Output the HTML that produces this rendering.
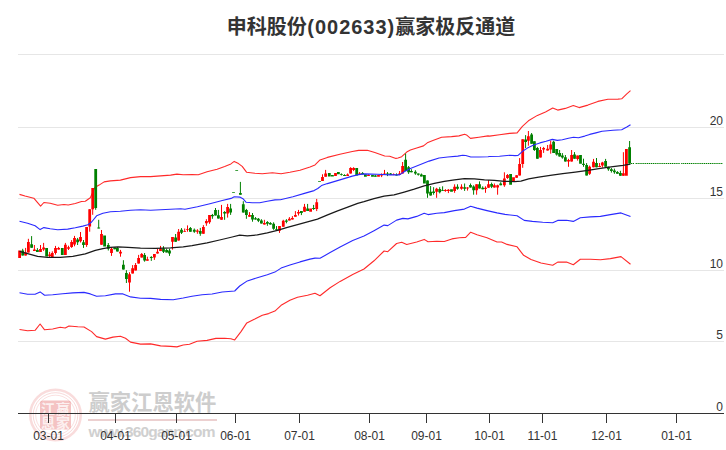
<!DOCTYPE html>
<html><head><meta charset="utf-8">
<style>
html,body{margin:0;padding:0;background:#fff;}
body{width:726px;height:450px;overflow:hidden;position:relative;font-family:"Liberation Sans","Noto Sans CJK SC",sans-serif;}
#title{position:absolute;left:0;top:12px;width:742px;text-align:center;font-size:20px;font-weight:bold;color:#333;line-height:30px;white-space:nowrap;}
svg{position:absolute;left:0;top:0;}
.yl{font-size:12px;fill:#333;text-anchor:end;}
.xl{font-size:12px;fill:#333;text-anchor:middle;}
</style></head><body>
<div id="title">申科股份<span style="letter-spacing:1px;margin-left:0.5px">(002633)</span>赢家极反通道</div>
<svg width="726" height="450" viewBox="0 0 726 450" font-family='"Liberation Sans","Noto Sans CJK SC",sans-serif'>
<g id="grid" stroke="#e6e6e6" stroke-width="1" shape-rendering="crispEdges">
<line x1="18" x2="724" y1="54.5" y2="54.5"/>
<line x1="18" x2="724" y1="127.5" y2="127.5"/>
<line x1="18" x2="724" y1="198.5" y2="198.5"/>
<line x1="18" x2="724" y1="270.5" y2="270.5"/>
<line x1="18" x2="724" y1="341.5" y2="341.5"/>
</g>
<g id="wm">
<g fill="none" stroke="#e05050">
<circle cx="55.5" cy="415" r="25.2" stroke-width="2.6" opacity="0.2"/>
<circle cx="55.5" cy="415" r="22.3" stroke-width="1" opacity="0.22"/>
<circle cx="55.5" cy="415" r="19.8" stroke-width="0.9" opacity="0.2"/>
</g>
<rect x="40" y="400.5" width="31" height="29" rx="3" fill="#e05050" opacity="0.34"/>
<g font-size="14" font-weight="bold" fill="#fff" opacity="0.75" text-anchor="middle">
<text x="48" y="413.5">江</text><text x="63" y="413.5">赢</text>
<text x="48" y="427.5">恩</text><text x="63" y="427.5">家</text>
</g>
<text x="88.5" y="410" font-size="21.3" font-weight="bold" fill="#cdcdcd">赢家江恩软件</text>
<rect x="88" y="419" width="129" height="2" fill="#ecd0d0"/>
<text x="88.5" y="436.5" font-size="15.5" font-weight="bold" fill="#d0d0d0" textLength="127" lengthAdjust="spacing">www.360gann.com</text>
</g>
<g id="axis" stroke="#333" stroke-width="1" shape-rendering="crispEdges">
<line x1="18" x2="724" y1="413.5" y2="413.5"/>
<line x1="48.5" x2="48.5" y1="413" y2="422.5"/><line x1="115.5" x2="115.5" y1="413" y2="422.5"/><line x1="176.5" x2="176.5" y1="413" y2="422.5"/><line x1="235.5" x2="235.5" y1="413" y2="422.5"/><line x1="299.5" x2="299.5" y1="413" y2="422.5"/><line x1="369.5" x2="369.5" y1="413" y2="422.5"/><line x1="426.5" x2="426.5" y1="413" y2="422.5"/><line x1="489.5" x2="489.5" y1="413" y2="422.5"/><line x1="542.5" x2="542.5" y1="413" y2="422.5"/><line x1="606.5" x2="606.5" y1="413" y2="422.5"/><line x1="676.5" x2="676.5" y1="413" y2="422.5"/>
</g>
<g id="ylab">
<text class="yl" x="723" y="125">20</text>
<text class="yl" x="723" y="196">15</text>
<text class="yl" x="723" y="268">10</text>
<text class="yl" x="723" y="339">5</text>
<text class="yl" x="723" y="411">0</text>
</g>
<g id="xlab">
<text class="xl" x="48.5" y="439.5">03-01</text>
<text class="xl" x="115.5" y="439.5">04-01</text>
<text class="xl" x="176.5" y="439.5">05-01</text>
<text class="xl" x="235.5" y="439.5">06-01</text>
<text class="xl" x="299.5" y="439.5">07-01</text>
<text class="xl" x="369.5" y="439.5">08-01</text>
<text class="xl" x="426.5" y="439.5">09-01</text>
<text class="xl" x="489.5" y="439.5">10-01</text>
<text class="xl" x="542.5" y="439.5">11-01</text>
<text class="xl" x="606.5" y="439.5">12-01</text>
<text class="xl" x="676.5" y="439.5">01-01</text>
</g>
<g id="curves1" fill="none" stroke-width="1.1" stroke-linejoin="round">
<path d="M19.5,194.4 L25.0,196.0 L33.8,198.2 L37.6,202.7 L40.6,206.2 L43.9,202.5 L50.2,203.2 L57.7,205.2 L64.0,204.5 L68.2,205.0 L75.3,203.5 L81.5,201.5 L85.3,201.2 L90.3,197.7 L94.8,187.6 L99.1,185.1 L104.1,181.9 L110.4,180.9 L120.4,180.1 L130.5,177.6 L140.5,176.6 L150.6,176.6 L160.6,175.9 L170.6,175.1 L176.9,174.1 L183.2,174.8 L192.0,174.5 L198.3,174.7 L207.1,171.7 L217.1,169.2 L224.7,166.4 L230.9,163.9 L234.2,161.4 L238.5,163.6 L242.2,166.4 L246.5,172.2 L254.8,173.2 L262.3,173.7 L272.4,172.7 L281.1,173.7 L289.9,172.2 L300.0,170.2 L310.0,166.9 L315.0,164.9 L320.0,159.9 L327.4,157.4 L339.9,154.3 L352.3,151.5 L358.6,150.4 L367.3,150.2 L374.8,152.5 L384.7,156.0 L389.7,156.2 L395.9,158.4 L398.0,158.0 L401.7,156.7 L406.7,152.1 L410.4,150.1 L416.7,148.0 L423.5,145.9 L427.9,142.4 L432.9,140.5 L441.6,137.2 L451.5,136.6 L459.0,135.9 L464.6,134.3 L466.5,134.9 L470.5,138.4 L478.9,137.2 L488.0,135.9 L489.5,136.1 L499.5,134.8 L509.6,133.4 L517.1,132.9 L522.4,126.4 L528.4,120.8 L537.4,115.4 L545.5,111.9 L552.7,108.1 L557.7,110.1 L565.3,108.4 L573.3,105.6 L579.1,107.6 L587.9,105.1 L597.9,101.4 L607.9,99.3 L618.0,99.1 L621.7,98.8 L626.8,93.8 L630.5,90.6" stroke="#ff2a2a"/>
<path d="M19.5,329.5 L27.6,330.8 L35.1,330.3 L40.1,324.0 L44.6,329.8 L52.7,329.0 L60.2,327.3 L65.2,328.0 L69.0,326.0 L77.8,326.8 L84.0,327.0 L91.6,331.6 L96.6,336.6 L105.4,339.1 L112.9,337.1 L120.4,336.3 L125.5,338.3 L130.5,342.1 L140.5,344.1 L150.6,343.9 L160.6,345.9 L170.6,346.4 L176.9,346.9 L183.2,345.0 L189.5,344.2 L197.1,341.2 L207.1,340.4 L215.9,338.4 L224.7,338.2 L230.9,338.7 L234.7,339.9 L241.0,331.6 L246.8,322.9 L254.8,319.1 L262.3,315.3 L268.6,313.6 L274.9,311.1 L281.1,305.3 L289.9,300.3 L297.5,297.2 L307.5,295.2 L315.0,293.2 L320.0,295.7 L330.1,287.7 L340.1,281.4 L352.7,274.4 L364.0,269.0 L374.0,260.8 L384.1,251.0 L387.8,251.7 L396.6,243.5 L401.7,242.2 L406.7,244.5 L416.7,242.0 L424.2,239.4 L428.0,241.7 L436.8,241.2 L444.3,241.5 L451.9,238.9 L459.4,237.7 L465.7,237.4 L470.7,232.2 L477.0,234.7 L487.0,237.7 L497.0,242.0 L501.6,242.0 L507.1,244.4 L517.1,246.8 L523.6,255.3 L531.0,259.6 L541.0,263.0 L552.7,265.3 L557.7,262.1 L566.5,262.1 L573.3,264.8 L580.3,259.3 L590.4,259.3 L600.4,259.8 L610.4,258.6 L621.0,256.6 L630.5,264.3" stroke="#ff2a2a"/>
<path d="M631,163.5H634 M635.6,163.5H680 M681.2,163.5H723" stroke="#008000" stroke-width="1" stroke-dasharray="1.3 0.6"/>
</g>
<g id="candles">
<path d="M25.6,247.9V255.6M28.4,238.8V252.5M34.4,245.0V250.9M40.5,245.0V251.9M43.6,242.9V250.9M49.6,251.9V257.5M52.3,251.3V257.5M55.5,245.9V254.6M58.6,246.9V249.6M65.4,242.9V255.0M68.5,245.7V250.0M71.6,240.1V247.9M74.5,235.9V246.3M80.5,232.0V242.5M86.6,227.0V246.9M89.7,209.2V231.7M92.7,188.0V214.8M101.5,230.0V244.7M111.5,247.4V255.9M120.5,249.9V256.7M129.5,272.2V291.7M132.6,265.1V273.5M135.6,263.0V270.4M138.6,254.9V263.6M141.7,253.0V257.6M147.4,256.7V260.7M154.4,254.0V259.9M157.5,248.7V253.6M160.5,245.9V251.1M172.5,237.1V249.6M178.6,229.0V240.6M184.7,228.5V231.8M187.5,225.4V231.7M197.4,229.2V233.8M203.4,225.1V233.8M206.4,219.2V225.8M209.5,215.1V223.8M221.5,204.9V219.8M227.6,203.9V217.6M249.5,212.1V216.7M264.4,219.8V224.6M279.5,226.1V232.9M283.3,219.8V226.7M289.4,217.1V220.5M292.4,216.1V219.6M295.4,211.1V216.7M298.5,209.9V215.5M304.5,203.9V211.7M316.7,198.9V211.1M322.5,174.3V180.9M325.6,169.9V176.7M347.6,173.4V175.9M350.6,167.2V173.6M353.6,167.2V171.1M359.6,172.1V174.9M368.5,174.3V175.9M381.6,173.4V177.1M384.5,169.9V174.6M393.6,173.4V175.1M399.6,171.0V175.0M402.6,162.0V173.5M436.6,187.8V197.8M445.4,189.1V191.8M448.4,189.1V193.1M454.6,184.3V192.8M461.5,184.3V189.7M467.5,187.2V190.6M476.6,184.3V194.7M485.5,186.3V192.8M488.5,180.1V187.8M494.4,183.5V187.6M497.6,184.7V194.7M504.4,172.3V186.8M507.5,174.1V178.8M516.6,175.1V177.8M519.6,158.1V175.5M522.7,139.2V167.8M528.4,131.0V145.7M540.5,146.9V157.5M543.6,146.9V152.9M547.6,145.0V150.6M550.7,140.7V153.7M568.5,158.8V166.8M571.6,150.0V161.6M577.6,155.6V160.6M589.6,165.6V174.9M593.5,158.9V167.3M599.6,163.0V167.1M602.4,161.8V167.6M623.4,152.2V175.8" stroke="#ff0000" stroke-width="1" fill="none"/>
<path d="M18.2,250.4h2.8V257.9h-2.8zM24.2,252.5h2.8V255.6h-2.8zM27.0,241.9h2.8V252.5h-2.8zM33.0,249.6h2.8V250.9h-2.8zM39.1,249.1h2.8V251.9h-2.8zM42.2,247.5h2.8V249.6h-2.8zM48.2,254.6h2.8V255.9h-2.8zM50.9,252.9h2.8V257.5h-2.8zM54.1,247.9h2.8V253.1h-2.8zM57.2,247.9h2.8V249.6h-2.8zM64.0,244.8h2.8V255.0h-2.8zM67.1,247.3h2.8V248.8h-2.8zM70.2,241.9h2.8V246.9h-2.8zM73.1,237.9h2.8V244.4h-2.8zM79.1,236.9h2.8V241.3h-2.8zM85.2,227.0h2.8V245.0h-2.8zM88.3,209.2h2.8V226.4h-2.8zM91.3,188.0h2.8V209.2h-2.8zM100.1,234.0h2.8V244.7h-2.8zM110.1,248.7h2.8V253.0h-2.8zM119.1,251.8h2.8V253.6h-2.8zM128.1,274.3h2.8V282.6h-2.8zM131.2,268.3h2.8V273.5h-2.8zM134.2,265.1h2.8V270.4h-2.8zM137.2,258.0h2.8V263.6h-2.8zM140.3,253.9h2.8V257.6h-2.8zM146.0,259.2h2.8V260.7h-2.8zM153.0,254.0h2.8V257.6h-2.8zM156.1,251.8h2.8V253.6h-2.8zM159.1,248.4h2.8V251.1h-2.8zM171.1,237.1h2.8V241.8h-2.8zM177.2,231.8h2.8V240.6h-2.8zM183.3,231.0h2.8V231.8h-2.8zM186.1,229.2h2.8V230.0h-2.8zM196.0,230.4h2.8V231.7h-2.8zM202.0,227.1h2.8V233.8h-2.8zM205.0,221.1h2.8V223.3h-2.8zM208.1,215.1h2.8V222.3h-2.8zM220.1,217.1h2.8V219.8h-2.8zM226.2,207.1h2.8V213.6h-2.8zM248.1,215.1h2.8V216.7h-2.8zM263.0,222.9h2.8V224.6h-2.8zM278.1,226.1h2.8V230.8h-2.8zM281.9,220.8h2.8V226.7h-2.8zM288.0,218.8h2.8V220.5h-2.8zM291.0,218.0h2.8V219.6h-2.8zM294.0,214.9h2.8V216.7h-2.8zM297.1,212.1h2.8V213.6h-2.8zM303.1,206.8h2.8V211.7h-2.8zM309.2,208.4h2.8V211.7h-2.8zM315.3,202.2h2.8V208.9h-2.8zM321.1,177.1h2.8V180.9h-2.8zM324.2,173.6h2.8V176.7h-2.8zM334.1,173.0h2.8V175.9h-2.8zM346.2,174.6h2.8V175.9h-2.8zM349.2,168.0h2.8V173.6h-2.8zM352.2,168.0h2.8V169.9h-2.8zM358.2,173.4h2.8V174.9h-2.8zM367.1,175.0h2.8V175.9h-2.8zM377.1,174.9h2.8V176.7h-2.8zM380.2,174.3h2.8V175.5h-2.8zM383.1,173.4h2.8V174.6h-2.8zM392.2,174.2h2.8V175.1h-2.8zM398.2,173.5h2.8V175.0h-2.8zM401.2,166.1h2.8V173.5h-2.8zM435.2,188.8h2.8V191.8h-2.8zM444.0,190.1h2.8V190.9h-2.8zM447.0,189.7h2.8V190.9h-2.8zM453.2,186.8h2.8V190.9h-2.8zM460.1,186.8h2.8V188.8h-2.8zM466.1,187.6h2.8V188.5h-2.8zM475.2,184.3h2.8V190.3h-2.8zM484.1,187.8h2.8V189.1h-2.8zM487.1,184.3h2.8V187.8h-2.8zM493.0,185.3h2.8V187.6h-2.8zM496.2,185.3h2.8V187.6h-2.8zM503.0,178.5h2.8V185.3h-2.8zM506.1,175.1h2.8V177.9h-2.8zM512.1,177.3h2.8V181.0h-2.8zM515.2,175.3h2.8V177.8h-2.8zM518.2,164.0h2.8V175.5h-2.8zM521.3,139.2h2.8V164.0h-2.8zM527.0,136.3h2.8V140.7h-2.8zM539.1,150.0h2.8V157.5h-2.8zM542.2,147.9h2.8V149.6h-2.8zM546.2,148.8h2.8V150.6h-2.8zM549.3,144.4h2.8V149.6h-2.8zM567.1,160.0h2.8V161.6h-2.8zM570.2,155.0h2.8V161.6h-2.8zM576.2,155.6h2.8V159.1h-2.8zM588.2,166.8h2.8V173.7h-2.8zM592.1,161.7h2.8V167.3h-2.8zM598.2,166.1h2.8V167.1h-2.8zM601.0,162.6h2.8V165.6h-2.8zM622.0,173.3h2.8V175.8h-2.8zM625.0,148.9h2.8V175.8h-2.8z" fill="#ff0000" stroke="none"/>
<path d="M22.7,248.8V255.6M31.6,236.1V247.8M37.4,248.1V251.9M77.6,237.9V245.0M83.5,240.0V247.9M95.7,169.1V209.8M98.7,219.8V228.4M108.3,243.0V250.5M114.7,247.4V249.3M117.4,247.0V251.5M123.4,260.2V269.6M126.4,270.2V283.0M144.6,253.0V261.7M151.3,256.1V260.9M163.5,246.2V253.0M166.6,248.7V252.4M169.5,248.7V255.9M175.6,234.0V241.8M181.5,228.1V234.0M190.4,227.0V231.7M194.3,228.5V232.9M200.3,227.9V235.8M212.4,213.9V218.8M215.5,208.0V215.5M218.4,209.9V218.6M224.6,211.1V219.8M230.6,203.9V214.9M240.4,181.9V194.7M243.3,201.2V212.6M246.4,208.9V218.8M252.5,213.0V221.7M255.5,217.1V219.6M258.4,218.0V222.1M261.4,219.2V223.6M267.4,221.1V225.8M270.4,222.1V224.6M273.6,222.3V229.8M276.5,226.1V230.8M286.4,219.2V223.3M301.4,211.1V215.1M307.6,203.9V210.9M313.6,204.9V209.9M341.4,173.4V175.5M344.5,174.3V175.9M362.6,172.1V174.3M375.4,174.9V176.7M387.5,172.1V176.1M390.6,173.0V174.9M396.5,173.4V175.5M405.6,153.6V171.0M408.6,166.0V173.9M411.4,169.2V172.3M415.4,170.2V174.8M418.3,173.5V175.6M421.4,173.5V176.4M427.5,180.4V197.8M430.6,186.0V195.6M433.6,187.2V194.7M439.7,187.2V193.4M442.6,186.3V191.0M457.5,184.3V189.7M464.6,183.5V190.9M470.5,183.5V187.6M473.6,185.3V194.7M479.5,181.4V188.5M482.7,186.3V189.3M491.6,182.6V188.1M500.7,182.2V185.3M525.6,135.1V148.1M531.6,133.0V143.8M534.4,141.3V150.9M537.4,146.9V158.7M553.6,140.7V152.9M556.7,149.1V155.6M559.6,150.0V156.6M562.4,153.1V158.7M565.4,155.0V161.6M574.5,152.1V158.7M583.5,158.7V166.8M586.6,163.1V175.5M596.5,158.0V167.3M605.6,158.9V166.7M608.4,166.7V170.8M611.4,168.0V172.6M614.4,168.6V173.8M617.4,171.1V173.8M620.4,170.8V175.8M629.6,141.0V163.6" stroke="#008000" stroke-width="1" fill="none"/>
<path d="M21.3,250.4h2.8V255.6h-2.8zM30.2,244.2h2.8V247.8h-2.8zM36.0,250.0h2.8V251.9h-2.8zM45.2,247.9h2.8V256.6h-2.8zM60.9,247.9h2.8V255.0h-2.8zM76.2,239.4h2.8V242.2h-2.8zM82.1,242.2h2.8V245.0h-2.8zM94.3,169.1h2.8V207.9h-2.8zM97.3,227.6h2.8V228.4h-2.8zM103.2,235.6h2.8V246.4h-2.8zM106.9,244.9h2.8V248.7h-2.8zM113.3,247.6h2.8V249.3h-2.8zM116.0,248.0h2.8V251.5h-2.8zM122.0,264.8h2.8V269.6h-2.8zM125.0,273.0h2.8V278.9h-2.8zM143.2,254.9h2.8V260.5h-2.8zM149.9,257.1h2.8V258.0h-2.8zM162.1,248.4h2.8V251.8h-2.8zM165.2,249.9h2.8V252.4h-2.8zM168.1,250.5h2.8V253.6h-2.8zM174.2,237.4h2.8V241.8h-2.8zM180.1,229.7h2.8V232.7h-2.8zM189.0,227.9h2.8V231.7h-2.8zM192.9,229.8h2.8V231.7h-2.8zM198.9,231.0h2.8V233.8h-2.8zM211.0,214.9h2.8V216.3h-2.8zM214.1,209.9h2.8V215.5h-2.8zM217.0,215.2h2.8V218.6h-2.8zM223.2,212.1h2.8V213.6h-2.8zM229.2,208.4h2.8V212.6h-2.8zM232.1,192.0h2.8V192.8h-2.8zM235.3,169.9h2.8V170.7h-2.8zM239.0,193.1h2.8V194.7h-2.8zM241.9,204.3h2.8V212.6h-2.8zM245.0,209.9h2.8V214.9h-2.8zM251.1,215.1h2.8V219.6h-2.8zM254.1,218.3h2.8V219.6h-2.8zM257.0,218.8h2.8V220.8h-2.8zM260.0,220.5h2.8V223.6h-2.8zM266.0,222.1h2.8V223.8h-2.8zM269.0,222.9h2.8V224.6h-2.8zM272.2,223.8h2.8V228.8h-2.8zM275.1,229.2h2.8V230.0h-2.8zM285.0,220.5h2.8V221.7h-2.8zM300.0,211.1h2.8V213.0h-2.8zM306.2,208.4h2.8V210.9h-2.8zM312.2,208.0h2.8V208.9h-2.8zM318.1,181.0h2.8V181.8h-2.8zM327.9,173.0h2.8V176.4h-2.8zM331.0,174.9h2.8V176.4h-2.8zM337.0,172.1h2.8V174.3h-2.8zM340.0,174.3h2.8V175.1h-2.8zM343.1,174.9h2.8V175.9h-2.8zM355.3,168.0h2.8V175.5h-2.8zM361.2,173.0h2.8V174.3h-2.8zM364.0,174.3h2.8V176.7h-2.8zM371.1,174.9h2.8V176.7h-2.8zM374.0,175.5h2.8V176.7h-2.8zM386.1,173.4h2.8V174.6h-2.8zM389.2,173.6h2.8V174.9h-2.8zM395.1,174.4h2.8V175.5h-2.8zM404.2,159.8h2.8V171.0h-2.8zM407.2,167.3h2.8V172.3h-2.8zM410.0,171.0h2.8V172.3h-2.8zM414.0,171.7h2.8V173.5h-2.8zM416.9,173.5h2.8V174.8h-2.8zM420.0,174.4h2.8V176.4h-2.8zM423.0,175.1h2.8V183.5h-2.8zM426.1,180.4h2.8V193.4h-2.8zM429.2,191.8h2.8V195.6h-2.8zM432.2,191.6h2.8V193.1h-2.8zM438.3,189.1h2.8V192.2h-2.8zM441.2,190.2h2.8V191.0h-2.8zM450.1,189.3h2.8V191.8h-2.8zM456.1,186.8h2.8V188.8h-2.8zM463.2,187.2h2.8V188.8h-2.8zM469.1,185.1h2.8V187.6h-2.8zM472.2,186.6h2.8V190.3h-2.8zM478.1,184.3h2.8V188.5h-2.8zM481.3,187.8h2.8V189.3h-2.8zM490.2,184.1h2.8V186.8h-2.8zM499.3,183.5h2.8V185.3h-2.8zM509.2,174.1h2.8V184.7h-2.8zM524.2,139.4h2.8V141.9h-2.8zM530.2,134.4h2.8V143.8h-2.8zM533.0,141.3h2.8V150.0h-2.8zM536.0,147.9h2.8V158.7h-2.8zM552.2,141.7h2.8V152.9h-2.8zM555.3,149.1h2.8V154.6h-2.8zM558.2,153.1h2.8V156.6h-2.8zM561.0,155.6h2.8V157.5h-2.8zM564.0,157.2h2.8V161.6h-2.8zM573.1,154.4h2.8V158.7h-2.8zM579.1,155.0h2.8V163.7h-2.8zM582.1,163.7h2.8V164.9h-2.8zM585.2,164.9h2.8V175.5h-2.8zM595.1,163.0h2.8V167.3h-2.8zM604.2,161.1h2.8V166.7h-2.8zM607.0,166.7h2.8V169.2h-2.8zM610.0,169.2h2.8V171.1h-2.8zM613.0,170.5h2.8V172.3h-2.8zM616.0,172.1h2.8V173.8h-2.8zM619.0,172.9h2.8V175.8h-2.8zM628.2,147.2h2.8V163.6h-2.8z" fill="#008000" stroke="none"/>
</g>
<g id="curves2" fill="none" stroke-width="1.1" stroke-linejoin="round">
<path d="M19.5,221.3 L27.6,223.3 L35.1,225.8 L40.1,229.6 L43.9,227.6 L50.2,228.8 L57.7,229.8 L67.7,229.1 L75.3,227.8 L82.8,226.1 L87.8,224.8 L91.6,222.0 L96.6,215.8 L102.9,213.3 L110.4,211.7 L120.4,211.2 L130.5,210.2 L140.5,209.7 L150.6,210.2 L160.6,209.7 L170.6,209.2 L180.7,208.8 L185.0,209.3 L197.4,206.8 L209.9,203.7 L222.3,200.5 L231.1,198.4 L234.2,196.8 L239.8,197.1 L242.9,198.7 L246.0,202.2 L252.2,202.8 L259.7,202.7 L267.2,201.2 L275.0,199.9 L280.4,199.7 L292.9,196.8 L305.3,193.1 L314.1,190.6 L317.8,188.5 L321.5,185.6 L327.4,183.6 L339.9,179.9 L352.3,176.1 L358.6,174.6 L364.8,173.9 L377.2,174.3 L389.7,174.9 L399.6,174.9 L404.2,171.7 L410.4,168.5 L422.9,163.6 L429.1,161.1 L439.1,158.0 L447.8,157.0 L457.8,156.1 L462.7,155.2 L465.8,155.5 L470.8,157.0 L478.9,157.0 L488.0,156.7 L489.5,156.5 L499.5,156.2 L509.6,155.3 L515.0,155.6 L518.1,155.4 L522.5,151.3 L527.4,148.1 L533.7,145.0 L539.9,142.9 L546.1,141.3 L552.3,139.4 L557.3,140.4 L562.3,139.8 L568.5,138.2 L573.5,137.2 L578.5,137.8 L584.7,136.1 L589.7,134.4 L595.9,132.9 L602.1,131.3 L605.0,131.0 L613.0,130.2 L621.7,129.7 L626.8,127.0 L630.5,124.7" stroke="#2a2aff"/>
<path d="M19.5,292.7 L27.6,294.2 L35.1,294.2 L40.1,291.9 L44.6,295.2 L52.7,294.7 L62.7,293.7 L72.8,292.9 L84.0,292.4 L90.3,293.9 L96.6,296.2 L105.4,295.7 L115.4,293.9 L123.0,293.9 L130.5,296.9 L140.5,298.2 L150.6,298.4 L160.6,299.4 L173.2,299.7 L183.2,298.0 L192.0,296.3 L202.1,294.7 L212.1,294.0 L222.2,292.0 L234.7,291.0 L239.7,286.0 L247.3,280.9 L257.3,277.7 L267.3,274.7 L274.9,272.1 L281.1,268.1 L289.9,265.1 L300.0,261.9 L310.0,259.1 L315.0,258.1 L320.0,258.3 L330.1,252.6 L340.1,247.0 L352.7,240.5 L364.0,236.0 L374.0,230.7 L384.1,225.1 L387.8,225.6 L396.6,220.1 L402.9,218.4 L407.9,218.9 L416.7,216.4 L424.2,213.3 L428.0,214.6 L436.8,213.3 L444.3,212.6 L454.4,210.6 L464.4,209.1 L470.7,206.3 L477.0,208.1 L487.0,210.6 L497.0,212.9 L505.0,214.4 L517.1,215.7 L524.2,220.4 L532.4,221.4 L542.7,222.2 L552.7,222.7 L557.7,220.4 L566.5,220.2 L573.3,221.4 L580.3,217.7 L590.4,216.9 L600.4,216.4 L610.4,214.6 L621.0,212.9 L630.5,216.6" stroke="#2a2aff"/>
<path d="M19.5,251.4 L27.6,253.7 L37.6,256.4 L47.7,257.4 L60.2,257.4 L72.8,256.4 L85.3,253.9 L95.3,250.4 L102.9,248.6 L110.4,247.4 L117.9,246.9 L128.0,247.4 L140.5,248.1 L155.6,248.4 L170.6,247.9 L183.2,246.8 L192.0,245.6 L207.1,242.8 L219.6,240.0 L232.2,237.0 L239.7,235.2 L247.3,235.9 L257.3,234.9 L267.3,232.9 L277.4,230.4 L287.4,227.4 L297.5,224.6 L307.5,221.9 L317.5,219.1 L327.6,214.8 L337.6,210.8 L347.7,207.1 L357.7,203.3 L364.0,201.6 L374.0,198.6 L384.1,196.1 L394.1,194.9 L404.2,192.1 L414.2,189.1 L424.2,185.8 L434.3,183.3 L444.3,181.3 L454.4,179.8 L464.4,178.6 L474.4,178.8 L484.5,179.8 L494.5,180.3 L504.6,181.3 L514.6,181.6 L520.9,181.1 L528.6,178.9 L538.7,177.1 L550.2,175.4 L562.8,173.6 L575.3,172.1 L587.9,170.4 L600.4,168.4 L613.0,166.6 L623.0,165.4 L630.5,164.1" stroke="#1a1a1a" stroke-width="1.25"/>
</g>
</svg>
</body></html>
